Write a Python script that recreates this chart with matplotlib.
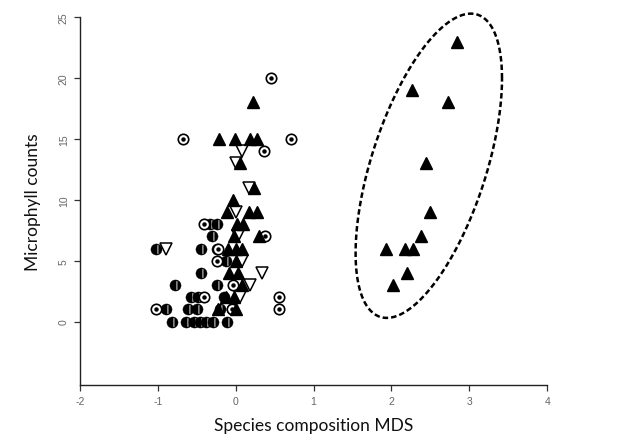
import numpy as np
import matplotlib
matplotlib.use("Agg")
import matplotlib.pyplot as plt
from matplotlib.path import Path

# Group 1: filled upward triangles
tri_up_x = [2.84, 2.26, 2.73, 2.45, 2.49, 2.38, 1.93, 2.18, 2.28, 2.20, 2.02,
            0.22, -0.21, -0.01, 0.19, 0.28, 0.05, 0.23, -0.03, -0.11, 0.17, 0.28,
            0.02, 0.10, -0.02, 0.30, -0.10, 0.00, 0.08, 0.00, -0.08, 0.03, 0.08,
            -0.12, -0.02, -0.22, 0.00]
tri_up_y = [23, 19, 18, 13, 9, 7, 6, 6, 6, 4, 3,
            18, 15, 15, 15, 15, 13, 11, 10, 9, 9, 9,
            8, 8, 7, 7, 6, 6, 6, 5, 4, 4, 3,
            2, 2, 1, 1]

# Group 2: open downward triangles
tri_dn_x = [0.08, 0.00, 0.17, 0.00, 0.03, -0.89, 0.08, 0.34, 0.19, 0.05]
tri_dn_y = [14, 13, 11, 9, 7, 6, 5, 4, 3, 2]

# Group 3: open circles with a centre dot
dot_x = [0.45, -0.68, 0.71, 0.36, 0.38, -0.41, -0.22, -0.24, -0.03, 0.56, 0.56,
         -1.02, -0.41, -0.05]
dot_y = [20, 15, 15, 14, 7, 8, 6, 5, 3, 2, 1, 1, 2, 1]

# Group 4: slit circles
half_x = [-0.33, -0.24, -0.30, -1.02, -0.44, -0.24, -0.12, -0.44, -0.78, -0.24,
          -0.57, -0.48, -0.15, -0.89, -0.61, -0.50, -0.20, -0.05,
          -0.82, -0.64, -0.54, -0.46, -0.38, -0.29, -0.11]
half_y = [8, 8, 7, 6, 6, 6, 5, 4, 3, 3,
          2, 2, 2, 1, 1, 1, 1, 1,
          0, 0, 0, 0, 0, 0, 0]

# Dashed ellipse around the right-hand group
ell_center = (2.48, 12.8)
ell_half_width = 0.94
ell_half_height = 12.5
ell_phase = 0.96

x_ticks = [-2, -1, 0, 1, 2, 3, 4]
y_ticks = [0, 5, 10, 15, 20, 25]

# Black disc with a narrow white vertical slit right of centre
circ = Path.unit_circle()
slit = Path([(0.12, -0.82), (0.12, 0.82), (0.38, 0.82), (0.38, -0.82), (0.12, -0.82)],
            [Path.MOVETO, Path.LINETO, Path.LINETO, Path.LINETO, Path.CLOSEPOLY])
slit_marker = Path.make_compound_path(circ, slit)

fig = plt.figure(figsize=(6.19, 4.35), dpi=100)
ax = fig.add_axes([0.129, 0.113, 0.755, 0.845])

ax.plot(half_x, half_y, linestyle="none", marker=slit_marker, markersize=8,
        markerfacecolor="black", markeredgecolor="black", markeredgewidth=0.3)
ax.plot(dot_x, dot_y, linestyle="none", marker="o", markersize=7.5,
        markerfacecolor="white", markeredgecolor="black", markeredgewidth=1.2)
ax.plot(dot_x, dot_y, linestyle="none", marker="o", markersize=2.2,
        markerfacecolor="black", markeredgecolor="black")
ax.plot(tri_dn_x, tri_dn_y, linestyle="none", marker="v", markersize=8.5,
        markerfacecolor="white", markeredgecolor="black", markeredgewidth=1.1)
ax.plot(tri_up_x, tri_up_y, linestyle="none", marker="^", markersize=8.5,
        markerfacecolor="black", markeredgecolor="black")

t = np.linspace(0, 2 * np.pi, 400)
ex = ell_center[0] + ell_half_width * np.cos(t)
ey = ell_center[1] + ell_half_height * np.cos(t - ell_phase)
ax.plot(ex, ey, color="black", linewidth=1.8, linestyle=(0, (2.2, 1.2)),
        clip_on=False)

ax.set_xlim(-2, 4)
ax.set_ylim(-5.2, 25)
ax.set_xticks(x_ticks)
ax.set_yticks(y_ticks)
ax.set_xticklabels([str(v) for v in x_ticks])
ax.set_yticklabels([str(v) for v in y_ticks], rotation=90, va="center")

for side in ("top", "right"):
    ax.spines[side].set_visible(False)
for side in ("left", "bottom"):
    ax.spines[side].set_linewidth(1.0)
    ax.spines[side].set_color("#222222")

ax.tick_params(axis="both", direction="out", length=4, width=0.9,
               color="#333333", labelsize=7.5, labelcolor="#666666", pad=4)
for lab in ax.get_xticklabels() + ax.get_yticklabels():
    lab.set_family("Liberation Sans")

ax.set_xlabel("Species composition MDS", family="Lato", fontsize=12.5,
              color="#111111", labelpad=8)
ax.set_ylabel("Microphyll counts", family="Lato", fontsize=12.5,
              color="#111111", labelpad=13)

fig.savefig("out.png", dpi=100, facecolor="white")
